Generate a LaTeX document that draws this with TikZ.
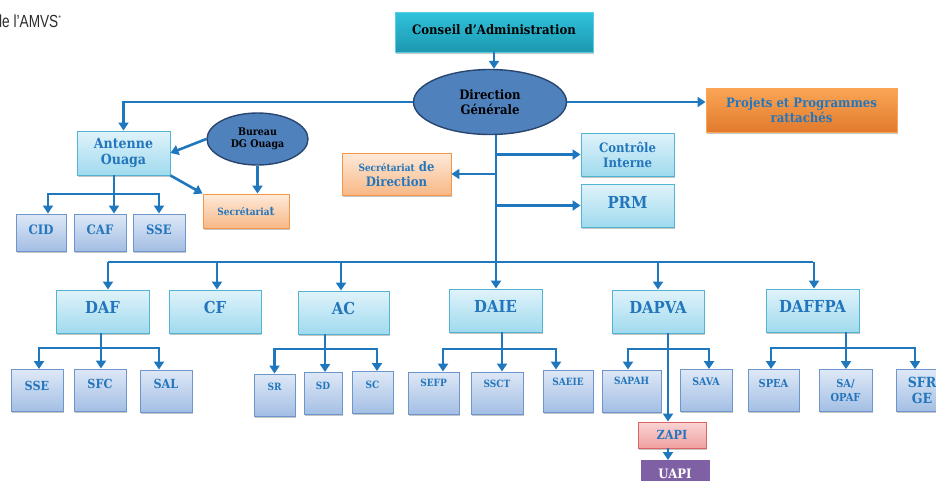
\documentclass[tikz,border=0pt]{standalone}
\usepackage{fontspec}
\setmainfont{DejaVu Serif Condensed}
\newfontfamily\hdrfont{Liberation Sans}
\usetikzlibrary{arrows.meta,shadows,shapes.geometric}
\newcommand\upT[2]{\raisebox{#1}[\height][\depth]{#2}}
\definecolor{cline}{RGB}{31,119,190}
\definecolor{lbA}{RGB}{224,243,250}
\definecolor{lbB}{RGB}{160,218,238}
\definecolor{lbD}{RGB}{80,180,210}
\definecolor{sbA}{RGB}{222,232,246}
\definecolor{sbB}{RGB}{163,190,228}
\definecolor{sbD}{RGB}{110,150,205}
\definecolor{tblue}{RGB}{36,118,188}
\definecolor{ellF}{RGB}{79,129,189}
\definecolor{ellD}{RGB}{40,70,112}
\definecolor{caA}{RGB}{48,194,220}
\definecolor{caB}{RGB}{28,152,176}
\definecolor{orA}{RGB}{250,166,86}
\definecolor{orB}{RGB}{226,122,44}
\definecolor{peA}{RGB}{253,234,218}
\definecolor{peB}{RGB}{248,184,134}
\definecolor{peD}{RGB}{247,150,70}
\definecolor{zpA}{RGB}{250,212,212}
\definecolor{zpB}{RGB}{240,160,160}
\definecolor{zpD}{RGB}{220,100,100}
\definecolor{uap}{RGB}{128,96,164}
\definecolor{hdr}{RGB}{45,45,45}
\tikzset{
  conn/.style={draw=cline, line width=2.6pt},
  arr/.style={conn, -{Triangle[length=8pt,width=10pt]}},
  shd/.style={drop shadow={shadow xshift=0.8pt,shadow yshift=-1.8pt,fill=black!45,opacity=0.5}},
  base/.style={shd, rectangle, inner sep=1pt, align=center, font=\bfseries, text=tblue, line width=0.9pt},
  lvtwo/.style={base, draw=lbD, top color=lbA, bottom color=lbB, minimum width=93pt, minimum height=43pt},
  lvthree/.style={base, draw=sbD, top color=sbA, bottom color=sbB, minimum height=42pt},
  orbox/.style={base, draw=peD, top color=peA, bottom color=peB},
  ell/.style={ellipse, draw=ellD, fill=ellF, line width=1.4pt, align=center, font=\bfseries, text=black, inner sep=0pt},
}
\begin{document}
\begin{tikzpicture}[x=1pt,y=-1pt]
\useasboundingbox (0,0) rectangle (936,480);
\clip (0,0) rectangle (936,480);
\fill[white] (0,0) rectangle (936,480);

\node[anchor=west, text=hdr, inner sep=0pt, font=\hdrfont\fontsize{17.5}{17.5}\selectfont] (hdr) at (-1,21) {\scalebox{0.78}[1]{le l’AMVS}\raisebox{6.5pt}{\scriptsize*}};

% top level
\node[base, draw=caA!80, top color=caA, bottom color=caB, text=black, minimum width=198pt, minimum height=40pt, font=\bfseries\fontsize{13}{15}\selectfont] (conseil) at (494,32) {\upT{2pt}{Conseil d’Administration}};
\node[ell, minimum width=153pt, minimum height=65pt, font=\bfseries\fontsize{13}{15}\selectfont] (dg) at (490,102) {Direction\\Générale};
\node[base, draw=orA, top color=orA, bottom color=orB, minimum width=191pt, minimum height=44pt, font=\bfseries\fontsize{13}{15}\selectfont] (projets) at (801.5,110) {Projets et Programmes\\rattachés};

% Antenne
\node[lvtwo, minimum width=93pt, minimum height=44pt, font=\bfseries\fontsize{14}{16}\selectfont] (antenne) at (123.5,153) {Antenne\\Ouaga};
\node[ell, minimum width=101pt, minimum height=52pt, font=\bfseries\fontsize{10.5}{12.5}\selectfont] (bureau) at (257.5,139) {Bureau\\DG Ouaga};
\node[orbox, minimum width=86pt, minimum height=34pt, font=\bfseries\fontsize{10}{12}\selectfont] (secr) at (246,211) {Secrétaria\fontsize{12}{12}\selectfont t};
\node[lvthree, minimum width=50pt, minimum height=37pt, font=\bfseries\fontsize{13}{15}\selectfont] (cid) at (41,232.5) {\upT{3pt}{CID}};
\node[lvthree, minimum width=52pt, minimum height=37pt, font=\bfseries\fontsize{13}{15}\selectfont] (caf) at (100,232.5) {\upT{3pt}{CAF}};
\node[lvthree, minimum width=52pt, minimum height=37pt, font=\bfseries\fontsize{13}{15}\selectfont] (sseA) at (159,232.5) {\upT{3pt}{SSE}};

% staff
\node[orbox, minimum width=109pt, minimum height=42pt, font=\bfseries\fontsize{13}{15}\selectfont] (secdir) at (396.5,174) {{\fontsize{10}{12}\selectfont Secrétariat} de\\Direction};
\node[lvtwo, minimum width=93pt, minimum height=43pt, font=\bfseries\fontsize{13}{15}\selectfont] (ci) at (627.5,154.5) {Contrôle\\Interne};
\node[lvtwo, minimum width=93pt, minimum height=43pt, font=\bfseries\fontsize{16.5}{18}\selectfont] (prm) at (627.5,205.5) {\upT{3pt}{PRM}};

% level 2
\tikzset{two/.style={lvtwo, font=\bfseries\fontsize{16.5}{18}\selectfont}}
\node[two] (daf) at (102.5,311.5) {\upT{4pt}{DAF}};
\node[two, minimum width=92pt] (cf) at (215,311.5) {\upT{4pt}{CF}};
\node[two, minimum width=91pt] (ac) at (343.5,312.5) {\upT{4pt}{AC}};
\node[two] (daie) at (495.5,310.5) {\upT{4pt}{DAIE}};
\node[two, minimum width=92pt] (dapva) at (658,311.5) {\upT{4pt}{DAPVA}};
\node[two] (daffpa) at (812.5,310.5) {\upT{4pt}{DAFFPA}};

% level 3
\tikzset{thrA/.style={lvthree, minimum width=52pt, font=\bfseries\fontsize{12.5}{14}\selectfont},
         thrB/.style={lvthree, font=\bfseries\fontsize{10}{12}\selectfont}}
\node[thrA] (sseB) at (37,390.5) {\upT{5pt}{SSE}};
\node[thrA] (sfc) at (100,390) {\upT{6pt}{SFC}};
\node[thrA] (sal) at (166,391) {\upT{7pt}{SAL}};
\node[thrB, minimum width=41pt] (sr) at (274.5,395) {\upT{8pt}{SR}};
\node[thrB, minimum width=38pt] (sd) at (323,393.5) {\upT{8pt}{SD}};
\node[thrB, minimum width=41pt] (sc) at (372.5,392.5) {\upT{8pt}{SC}};
\node[thrB, minimum width=51pt] (sefp) at (433.5,393) {\upT{10pt}{SEFP}};
\node[thrB, minimum width=52pt] (ssct) at (497,393) {\upT{9pt}{SSCT}};
\node[thrB, minimum width=50pt] (saeie) at (568,391) {\upT{9pt}{SAEIE}};
\node[thrB, minimum width=59pt] (sapah) at (631.5,391) {\upT{10pt}{SAPAH}};
\node[thrB, minimum width=52pt, font=\bfseries\fontsize{10.5}{12}\selectfont] (sava) at (706,390.5) {\upT{9pt}{SAVA}};
\node[thrB, minimum width=51pt, font=\bfseries\fontsize{11}{13}\selectfont] (spea) at (773.5,390.5) {\upT{7.5pt}{SPEA}};
\node[thrB, minimum width=53pt, font=\bfseries\fontsize{11}{14}\selectfont] (saopaf) at (845.5,390.5) {SA/\\OPAF};
\node[thrB, minimum width=52pt, font=\bfseries\fontsize{14}{15.5}\selectfont] (sfrge) at (922,390.5) {SFR\\GE};
\node[base, draw=zpD, top color=zpA, bottom color=zpB, minimum width=68pt, minimum height=26pt, font=\bfseries\fontsize{12.5}{14}\selectfont] (zapi) at (672,435) {ZAPI};
\node[base, draw=uap, fill=uap, text=white, minimum width=68pt, minimum height=26pt, font=\bfseries\fontsize{13}{15}\selectfont, anchor=north] (uapi) at (675,460) {UAPI};

% connectors top
\draw[arr] (conseil.south) -- (conseil.south |- dg.north);
\draw[arr] (dg.west) -| (antenne.north);
\draw[arr] (dg.east) -- (dg.east -| projets.west);
\coordinate (bus) at (496,262);
\draw[conn] (dg.south -| bus) -- (bus);
\draw[arr] (bus |- ci.west) -- (ci.west);
\draw[arr] (bus |- secdir.east) -- (secdir.east);
\draw[arr] (bus |- prm.west) -- (prm.west);

% Antenne area
\draw[arr] (bureau.west) -- (antenne.east);
\draw[arr] (antenne.south east) -- (secr.north west);
\draw[arr] (bureau.south) -- (bureau.south |- secr.north);
\coordinate (antJ) at (114,194);
\draw[arr] (antJ |- antenne.south) -- (antJ |- caf.north);
\draw[arr] (antJ) -| ([xshift=7pt]cid.north);
\draw[arr] (antJ) -| (sseA.north);

% bus to level 2
\draw[conn] ([xshift=5.5pt]daf.north |- bus) -- (daffpa.north |- bus);
\draw[arr] ([xshift=5.5pt]daf.north |- bus) -- ([xshift=5.5pt]daf.north);
\draw[arr] ([xshift=2pt]cf.north |- bus) -- ([xshift=2pt]cf.north);
\draw[arr] ([xshift=-2.5pt]ac.north |- bus) -- ([xshift=-2.5pt]ac.north);
\draw[arr] (bus) -- (bus |- daie.north);
\draw[arr] (dapva.north |- bus) -- (dapva.north);
\draw[arr] ([xshift=1.5pt]daffpa.north |- bus) -- ([xshift=1.5pt]daffpa.north);

% DAF children
\coordinate (dafJ) at (101,348);
\draw[arr] (dafJ |- daf.south) -- (dafJ |- sfc.north);
\draw[arr] (dafJ) -| ([xshift=2pt]sseB.north);
\draw[arr] (dafJ) -| ([xshift=-7pt]sal.north);
% AC children
\coordinate (acJ) at (325,349);
\draw[arr] (acJ |- ac.south) -- (acJ |- sd.north);
\draw[arr] (acJ) -| (sr.north);
\draw[arr] (acJ) -| ([xshift=4.5pt]sc.north);
% DAIE children
\coordinate (daieJ) at (502,349);
\draw[arr] (daieJ |- daie.south) -- (daieJ |- ssct.north);
\draw[arr] (daieJ) -| ([xshift=9.5pt]sefp.north);
\draw[arr] (daieJ) -| ([xshift=-12pt]saeie.north);
% DAPVA children
\coordinate (dapJ) at (668,349);
\draw[arr] (dapJ |- dapva.south) -- (dapJ |- zapi.north);
\draw[arr] (dapJ) -| ([xshift=-3.5pt]sapah.north);
\draw[arr] (dapJ) -| ([xshift=3pt]sava.north);
\draw[arr] (dapJ |- zapi.south) -- (dapJ |- uapi.north);
% DAFFPA children
\coordinate (dffJ) at (846,348);
\draw[arr] (dffJ |- daffpa.south) -- (dffJ |- saopaf.north);
\draw[arr] (dffJ) -| ([xshift=-2.5pt]spea.north);
\draw[arr] (dffJ) -| ([xshift=-7pt]sfrge.north);
\end{tikzpicture}
\end{document}
